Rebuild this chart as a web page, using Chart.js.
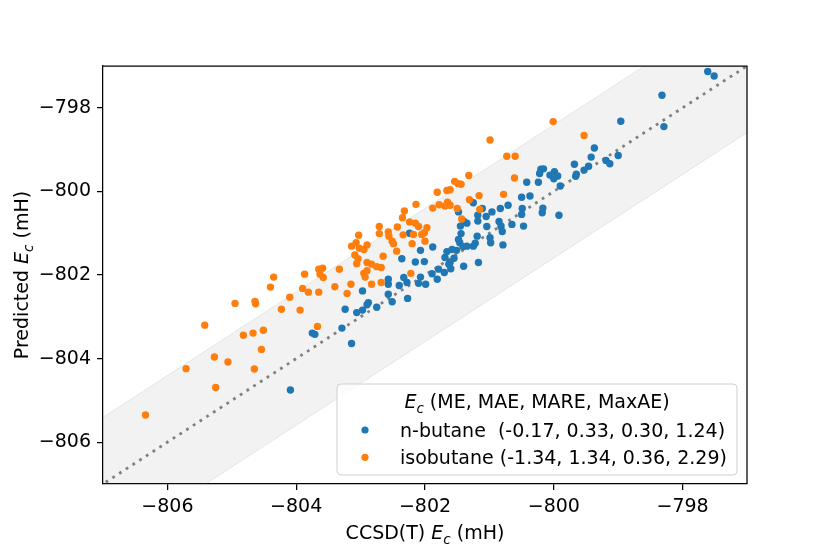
<!DOCTYPE html>
<html>
<head>
<meta charset="utf-8">
<script src="https://cdn.jsdelivr.net/npm/chart.js@4.4.0/dist/chart.umd.min.js"></script>
<style>
  html, body { margin: 0; padding: 0; background: #fff; }
</style>
</head>
<body>
<canvas id="parity" width="830" height="554"></canvas>
<script>
// CCSD(T) reference vs predicted correlation energy, mH
const nButaneRef = [
  -797.61, -797.51, -798.32, -798.29, -798.96, -799.37, -799.42, -799.00, -799.19, -799.13,
  -799.68, -799.46, -799.53, -799.65, -799.66, -800.20, -800.16, -800.06, -799.99, -799.94,
  -800.00, -799.90, -800.22, -800.42, -800.24, -800.50, -800.37, -800.71, -800.83, -800.96,
  -801.05, -801.11, -801.25, -800.49, -800.50, -800.17, -800.18, -799.92, -801.48, -801.18,
  -801.18, -801.35, -801.40, -801.04, -800.85, -800.82, -800.80, -800.65, -800.47, -801.45,
  -801.44, -801.19, -800.99, -800.98, -801.22, -801.25, -801.46, -801.41, -800.79, -801.66,
  -801.58, -801.51, -801.88, -802.07, -801.55, -801.61, -802.01, -801.17, -801.40, -801.60,
  -801.70, -801.79, -801.89, -801.81, -801.99, -802.07, -802.24, -802.36, -802.15, -802.33,
  -802.40, -802.27, -802.57, -802.57, -802.57, -802.51, -802.28, -802.10, -802.97, -803.24,
  -803.06, -802.97, -802.88, -802.75, -802.90, -803.29, -803.14, -803.75, -803.71, -804.09,
  -801.69, -801.35, -801.48, -801.63
];
const nButanePred = [
  -797.13, -797.24, -797.70, -798.45, -798.32, -798.96, -799.18, -799.14, -799.26, -799.34,
  -799.35, -799.40, -799.49, -799.59, -799.64, -799.47, -799.46, -799.61, -799.53, -799.63,
  -799.70, -799.87, -799.57, -799.78, -799.78, -800.14, -800.11, -800.33, -800.41, -800.49,
  -800.60, -800.41, -800.27, -800.41, -800.55, -800.40, -800.51, -800.57, -800.49, -800.57,
  -800.71, -800.76, -800.71, -800.84, -800.72, -800.84, -800.96, -800.79, -800.83, -800.83,
  -801.01, -801.07, -801.11, -801.23, -801.24, -801.31, -801.23, -801.32, -801.28, -801.44,
  -801.39, -801.41, -801.33, -801.41, -801.60, -801.70, -801.68, -801.70, -801.79, -801.85,
  -801.94, -801.86, -801.97, -802.10, -802.22, -802.05, -801.00, -801.61, -801.69, -802.06,
  -802.25, -802.56, -802.10, -802.22, -802.46, -802.64, -802.18, -802.20, -802.38, -802.82,
  -802.90, -802.84, -802.66, -802.77, -802.71, -803.27, -803.64, -803.39, -803.42, -804.75,
  -801.58, -801.31, -801.15, -801.74
];
const isoRef = [
  -800.01, -800.99, -799.53, -800.73, -800.60, -801.32, -800.61, -801.54, -801.49, -801.44,
  -801.81, -801.66, -801.61, -801.16, -800.78, -801.31, -801.88, -801.78, -801.69, -801.65,
  -801.61, -801.50, -801.15, -801.43, -801.97, -802.01, -802.00, -802.14, -802.32, -802.35,
  -802.24, -802.15, -802.10, -802.05, -802.18, -802.20, -802.34, -802.43, -802.22, -802.44,
  -802.71, -802.71, -802.57, -802.56, -802.51, -802.49, -802.65, -802.68, -802.83, -803.03,
  -803.14, -803.07, -803.02, -802.95, -802.90, -803.09, -803.04, -803.06, -802.90, -802.83,
  -802.75, -802.68, -802.95, -802.93, -802.90, -803.21, -803.15, -803.40, -803.33, -803.65,
  -803.59, -803.63, -803.58, -803.65, -803.81, -803.90, -803.87, -804.10, -804.35, -804.40,
  -804.64, -804.63, -804.95, -804.23, -803.94, -803.67, -804.82, -804.67, -804.51, -804.54,
  -804.65, -805.42, -805.71, -805.27, -805.06, -805.25, -806.34
];
const isoPred = [
  -798.33, -798.77, -798.66, -799.16, -799.16, -799.62, -799.68, -799.76, -799.81, -799.83,
  -800.02, -799.98, -799.96, -800.10, -800.07, -800.20, -800.40, -800.32, -800.35, -800.26,
  -800.33, -800.41, -800.43, -800.66, -800.87, -800.99, -801.19, -800.31, -800.47, -800.63,
  -800.73, -800.76, -800.84, -801.03, -801.03, -801.25, -801.04, -800.85, -801.96, -801.43,
  -800.84, -801.01, -800.97, -801.07, -801.19, -801.25, -801.55, -802.18, -802.22, -801.05,
  -801.31, -801.23, -801.36, -801.39, -801.28, -801.52, -801.61, -801.73, -801.70, -801.74,
  -801.80, -801.82, -801.96, -802.05, -801.90, -802.44, -802.22, -802.28, -801.86, -801.86,
  -801.84, -801.98, -802.06, -802.41, -802.41, -802.32, -801.98, -802.53, -802.05, -802.29,
  -802.63, -802.69, -802.68, -802.82, -802.84, -803.23, -803.44, -803.39, -803.32, -803.78,
  -804.25, -803.20, -804.24, -803.96, -804.08, -804.69, -805.35
];
const axisTicks = [-806, -804, -802, -800, -798];
const axisMin = -807;
const axisMax = -797;
const chemAcc = 1.594; // 1 kcal/mol in mH
const legendLabels = [
  "n-butane  (-0.17, 0.33, 0.30, 1.24)",
  "isobutane (-1.34, 1.34, 0.36, 2.29)"
];
const blue = "#1f77b4";
const orange = "#ff7f0e";
const FONT = "'DejaVu Sans', sans-serif";
const FS = 19;

const toPoints = (xs, ys) => xs.map((x, i) => ({x: x, y: ys[i]}));
const diagonal = (off) => [axisMin - 1, axisMax + 1].map(v => ({x: v, y: v + off}));
const minus = v => String(v).replace("-", "\u2212");

// draws text with italic E and subscript c
function drawRich(ctx, parts, x, y, align) {
  const fontOf = p => (p.it ? "italic " : "") + (p.sub ? 13.5 : FS) + "px " + FONT;
  const widths = parts.map(p => { ctx.font = fontOf(p); return ctx.measureText(p.t).width; });
  const total = widths.reduce((a, b) => a + b, 0);
  let cx = align === "center" ? x - total / 2 : x;
  ctx.textAlign = "left";
  ctx.textBaseline = "alphabetic";
  parts.forEach((p, i) => {
    ctx.font = fontOf(p);
    ctx.fillText(p.t, cx, y + (p.sub ? 4.5 : 0));
    cx += widths[i];
  });
}
const Ec = [{t: "E", it: true}, {t: "c", it: true, sub: true}];

const decor = {
  id: "decor",
  afterDraw(chart) {
    const ctx = chart.ctx;
    const a = chart.chartArea;
    ctx.save();
    // top / right spines
    ctx.strokeStyle = "#000";
    ctx.lineWidth = 1.25;
    ctx.beginPath();
    ctx.moveTo(a.left, a.top);
    ctx.lineTo(a.right, a.top);
    ctx.lineTo(a.right, a.bottom);
    ctx.stroke();

    ctx.fillStyle = "#000";
    // axis titles
    drawRich(ctx, [{t: "CCSD(T) "}].concat(Ec, [{t: " (mH)"}]), (a.left + a.right) / 2, 539, "center");
    ctx.save();
    ctx.translate(28, (a.top + a.bottom) / 2);
    ctx.rotate(-Math.PI / 2);
    drawRich(ctx, [{t: "Predicted "}].concat(Ec, [{t: " (mH)"}]), 0, 0, "center");
    ctx.restore();

    // legend
    const bx = 337, by = 384, bw = 400, bh = 91;
    ctx.beginPath();
    ctx.roundRect(bx, by, bw, bh, 4);
    ctx.fillStyle = "rgba(255,255,255,0.8)";
    ctx.fill();
    ctx.strokeStyle = "#d0d0d0";
    ctx.lineWidth = 1;
    ctx.stroke();
    ctx.fillStyle = "#000";
    drawRich(ctx, Ec.concat([{t: " (ME, MAE, MARE, MaxAE)"}]), bx + bw / 2, 408, "center");
    [blue, orange].forEach((c, i) => {
      const yy = 430 + i * 27.3;
      ctx.fillStyle = c;
      ctx.beginPath();
      ctx.arc(365, yy, 3.6, 0, Math.PI * 2);
      ctx.fill();
      ctx.fillStyle = "#000";
      drawRich(ctx, [{t: legendLabels[i]}], 400, yy + 7, "left");
    });
    ctx.restore();
  }
};

const axisOpts = (extra) => Object.assign({
  type: "linear",
  min: axisMin,
  max: axisMax,
  afterBuildTicks: s => { s.ticks = axisTicks.map(v => ({value: v})); },
  ticks: { color: "#000", font: {family: FONT, size: FS}, padding: 6, callback: v => minus(v) },
  grid: { drawOnChartArea: false, drawTicks: true, tickLength: 6, color: "#000", lineWidth: 1.25 },
  border: { display: true, color: "#000", width: 1.25 }
}, extra);

new Chart(document.getElementById("parity"), {
  type: "scatter",
  data: {
    datasets: [
      { type: "line", data: diagonal(chemAcc), borderColor: "rgba(128,128,128,0.15)", borderWidth: 1,
        pointRadius: 0, fill: false, order: 5 },
      { type: "line", data: diagonal(-chemAcc), borderColor: "rgba(128,128,128,0.15)", borderWidth: 1,
        pointRadius: 0, fill: "-1", backgroundColor: "rgba(128,128,128,0.1)", order: 4 },
      { type: "line", data: diagonal(0), borderColor: "#808080", borderWidth: 2.8, borderDash: [2.8, 5.2],
        pointRadius: 0, fill: false, order: 3 },
      { label: "n-butane", data: toPoints(nButaneRef, nButanePred), backgroundColor: blue,
        pointRadius: 3.7, pointBorderWidth: 0, order: 2 },
      { label: "isobutane", data: toPoints(isoRef, isoPred), backgroundColor: orange,
        pointRadius: 3.7, pointBorderWidth: 0, order: 1 }
    ]
  },
  options: {
    responsive: false,
    animation: false,
    devicePixelRatio: 1,
    layout: { padding: {top: 66, right: 83, left: 0, bottom: 0} },
    plugins: { legend: {display: false}, tooltip: {enabled: false} },
    scales: {
      x: axisOpts({ position: "bottom", afterFit: s => { s.height = 70; } }),
      y: axisOpts({ position: "left", afterFit: s => { s.width = 103; } })
    }
  },
  plugins: [decor]
});
</script>
</body>
</html>
